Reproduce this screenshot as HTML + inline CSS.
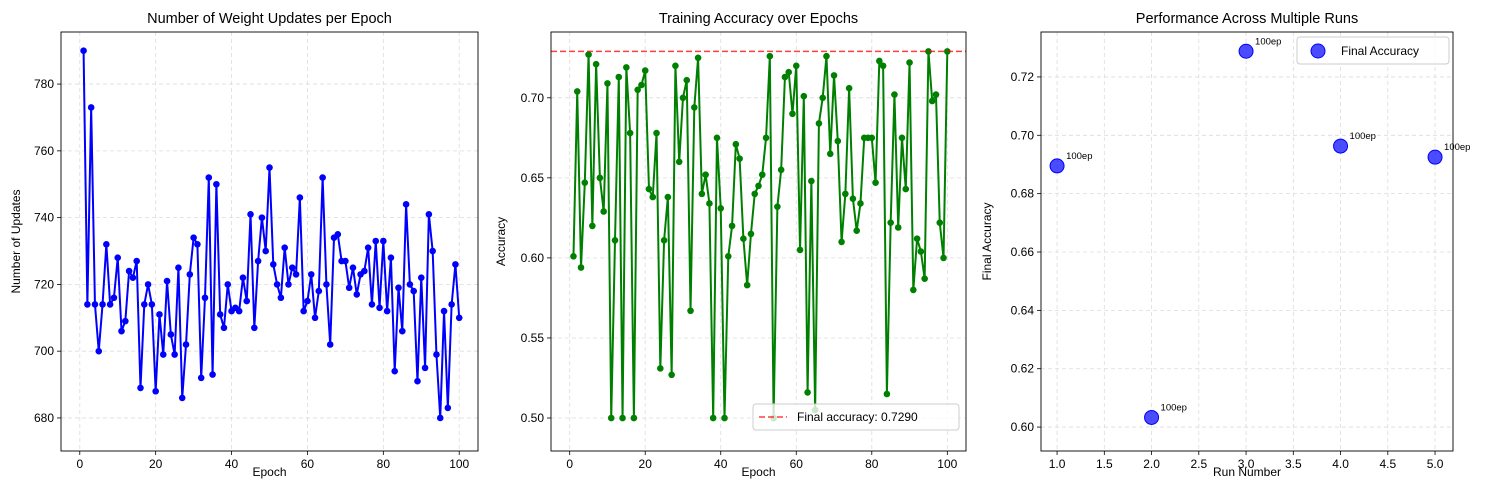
<!DOCTYPE html>
<html><head><meta charset="utf-8"><style>
body{margin:0;background:#fff;}
svg{display:block;font-family:"Liberation Sans","DejaVu Sans",sans-serif;}
</style></head><body>
<svg id="c" width="1486" height="490"></svg>
<script>
const epochs = Array.from({length:100},(_,i)=>i+1);
const updates = [790,714,773,714,700,714,732,714,716,728,706,709,724,722,727,689,714,720,714,688,711,699,721,705,699,725,686,702,723,734,732,692,716,752,693,750,711,707,720,712,713,712,722,715,741,707,727,740,730,755,726,720,716,731,720,725,723,746,712,715,723,710,718,752,720,702,734,735,727,727,719,725,717,723,724,731,714,733,713,733,712,728,694,719,706,744,720,718,691,722,695,741,730,699,680,712,683,714,726,710];
const accuracy = [.601,.704,.594,.647,.727,.620,.721,.650,.629,.709,.500,.611,.713,.500,.719,.678,.500,.705,.708,.717,.643,.638,.678,.531,.611,.638,.527,.720,.660,.700,.711,.567,.694,.725,.640,.652,.634,.500,.675,.631,.500,.601,.620,.671,.662,.612,.583,.615,.640,.645,.652,.675,.726,.500,.632,.655,.713,.716,.690,.720,.605,.701,.516,.648,.505,.684,.700,.726,.665,.714,.673,.610,.640,.706,.637,.617,.634,.675,.675,.675,.647,.723,.720,.515,.622,.702,.619,.675,.643,.722,.580,.612,.604,.587,.729,.698,.702,.622,.600,.729];
const finalAcc = 0.7290;
const runs = [1,2,3,4,5];
const runAcc = [0.6895,0.6033,0.7288,0.6963,0.6925];
const runLabels = ["100ep","100ep","100ep","100ep","100ep"];
const t1x=[0,20,40,60,80,100], t1y=[680,700,720,740,760,780];
const t2x=[0,20,40,60,80,100], t2y=[0.50,0.55,0.60,0.65,0.70];
const t3x=[1.0,1.5,2.0,2.5,3.0,3.5,4.0,4.5,5.0], t3y=[0.60,0.62,0.64,0.66,0.68,0.70,0.72];

const svg=document.getElementById('c');
const NS='http://www.w3.org/2000/svg';
function el(tag,attrs,parent,text){const e=document.createElementNS(NS,tag);for(const k in attrs)e.setAttribute(k,attrs[k]);if(text!==undefined)e.textContent=text;(parent||svg).appendChild(e);return e;}
function scale(d0,d1,r0,r1){return v=>r0+(v-d0)/(d1-d0)*(r1-r0);}

function panel(o){
  const g=el('g',{});
  
  
  const X=scale(o.xd[0],o.xd[1],o.L,o.R), Y=scale(o.yd[0],o.yd[1],o.B,o.T);
  o.xt.forEach(v=>{const x=X(v);
    const gl=el('line',{x1:x,x2:x,y1:o.T,y2:o.B,stroke:'#dcdcdc','stroke-dasharray':'4,3','stroke-width':0.8},g);
    
    el('line',{x1:x,x2:x,y1:o.B,y2:o.B+4,stroke:'#000','stroke-width':0.8},g);
    const t=el('text',{x:x,y:o.B+17,'text-anchor':'middle','font-size':12,fill:'#000'},g,o.xf(v));
    });
  o.yt.forEach(v=>{const y=Y(v);
    const gl=el('line',{x1:o.L,x2:o.R,y1:y,y2:y,stroke:'#dcdcdc','stroke-dasharray':'4,3','stroke-width':0.8},g);
    
    el('line',{x1:o.L-4,x2:o.L,y1:y,y2:y,stroke:'#000','stroke-width':0.8},g);
    const t=el('text',{x:o.L-7,y:y+4,'text-anchor':'end','font-size':12,fill:'#000'},g,o.yf(v));
    });
  const tt=el('text',{x:(o.L+o.R)/2,y:23,'text-anchor':'middle','font-size':14.5,fill:'#000'},g,o.title);
  
  const xl=el('text',{x:(o.L+o.R)/2,y:476,'text-anchor':'middle','font-size':12,fill:'#000'},g,o.xlabel);
  
  const yl=el('text',{x:0,y:0,'text-anchor':'middle','font-size':12,fill:'#000',transform:`translate(${o.ylx},${(o.T+o.B)/2}) rotate(-90)`},g,o.ylabel);
  
  return {g,X,Y,o};
}
function frame(p){const o=p.o;const r=el('rect',{x:o.L,y:o.T,width:o.R-o.L,height:o.B-o.T,fill:'none',stroke:'#000','stroke-width':0.9},p.g);
  }

const T=32,B=451;
// Panel 1
const p1=panel({name:'updates-panel',L:61,R:478,T,B,xd:[-4.95,104.95],yd:[670.1,795.6],xt:t1x,yt:t1y,xf:v=>v,yf:v=>v,title:'Number of Weight Updates per Epoch',xlabel:'Epoch',ylabel:'Number of Updates',ylx:20});
const l1=el('polyline',{points:epochs.map((e,i)=>p1.X(e)+','+p1.Y(updates[i])).join(' '),fill:'none',stroke:'#0000ff','stroke-width':2},p1.g);

epochs.forEach((e,i)=>{const c=el('circle',{cx:p1.X(e),cy:p1.Y(updates[i]),r:3.3,fill:'#0000ff'},p1.g);
  });
frame(p1);

// Panel 2
const p2=panel({name:'accuracy-panel',L:551,R:966,T,B,xd:[-4.95,104.95],yd:[0.4794,0.7411],xt:t2x,yt:t2y,xf:v=>v,yf:v=>v.toFixed(2),title:'Training Accuracy over Epochs',xlabel:'Epoch',ylabel:'Accuracy',ylx:505});
const l2=el('polyline',{points:epochs.map((e,i)=>p2.X(e)+','+p2.Y(accuracy[i])).join(' '),fill:'none',stroke:'#008000','stroke-width':2},p2.g);

epochs.forEach((e,i)=>{const c=el('circle',{cx:p2.X(e),cy:p2.Y(accuracy[i]),r:3.3,fill:'#008000'},p2.g);
  });
const fl=el('line',{x1:551,x2:966,y1:p2.Y(finalAcc),y2:p2.Y(finalAcc),stroke:'#ff0000','stroke-opacity':0.75,'stroke-dasharray':'6,3','stroke-width':1.5},p2.g);

const lg2=el('g',{},p2.g);
el('rect',{x:753,y:404,width:206,height:26,rx:3,fill:'#fff','fill-opacity':0.8,stroke:'#ccc'},lg2);
el('line',{x1:759,x2:787,y1:417,y2:417,stroke:'#ff0000','stroke-opacity':0.75,'stroke-dasharray':'6,3','stroke-width':1.5},lg2);
el('text',{x:797,y:421,'font-size':12,fill:'#000'},lg2,'Final accuracy: '+finalAcc.toFixed(4));
frame(p2);

// Panel 3
const p3=panel({name:'runs-panel',L:1041,R:1453,T,B,xd:[0.83,5.19],yd:[0.5918,0.7354],xt:t3x,yt:t3y,xf:v=>v.toFixed(1),yf:v=>v.toFixed(2),title:'Performance Across Multiple Runs',xlabel:'Run Number',ylabel:'Final Accuracy',ylx:991});
runs.forEach((r,i)=>{const c=el('circle',{cx:p3.X(r),cy:p3.Y(runAcc[i]),r:7,fill:'#0000ff','fill-opacity':0.7,stroke:'#0000ff'},p3.g);
  
  const t=el('text',{x:p3.X(r)+9,y:p3.Y(runAcc[i])-7,'font-size':9.5,fill:'#000'},p3.g,runLabels[i]);
  });
const lg3=el('g',{},p3.g);
el('rect',{x:1297,y:37,width:152,height:27,rx:3,fill:'#fff','fill-opacity':0.8,stroke:'#ccc'},lg3);
el('circle',{cx:1318,cy:51,r:7,fill:'#0000ff','fill-opacity':0.7,stroke:'#0000ff'},lg3);
el('text',{x:1341,y:55,'font-size':12,fill:'#000'},lg3,'Final Accuracy');
frame(p3);
</script>
</body></html>
